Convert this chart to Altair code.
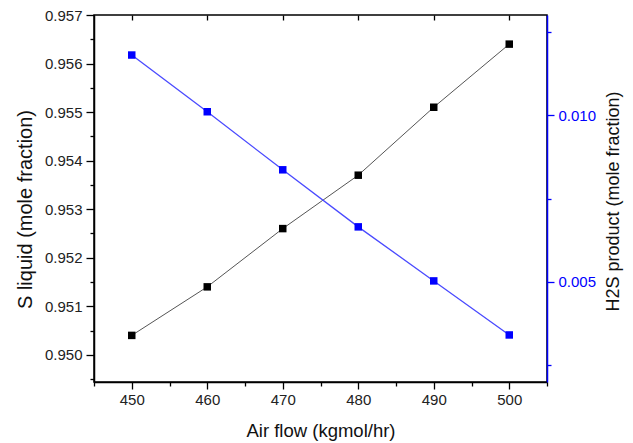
import altair as alt
import pandas as pd

air_flow = [450, 460, 470, 480, 490, 500]
s_liquid = [0.9504, 0.9514, 0.9526, 0.9537, 0.9551, 0.9564]
h2s_product = [0.0118, 0.0101, 0.00836, 0.00665, 0.00503, 0.00341]

x_major = [450, 460, 470, 480, 490, 500]
x_ticks = [445, 450, 455, 460, 465, 470, 475, 480, 485, 490, 495, 500, 505]
yl_ticks = [0.9495, 0.950, 0.9505, 0.951, 0.9515, 0.952, 0.9525, 0.953, 0.9535,
            0.954, 0.9545, 0.955, 0.9555, 0.956, 0.9565, 0.957]
yr_ticks = [0.0025, 0.005, 0.0075, 0.010, 0.0125]

df = pd.DataFrame({"x": air_flow, "s": s_liquid, "h": h2s_product})

FONT = "Liberation Sans"
BLUE = "#0000ff"

x_is_major = "datum.value % 10 == 0"
yl_is_major = "abs(datum.value * 1000 - round(datum.value * 1000)) < 0.01"
yr_is_major = "abs(datum.value * 200 - round(datum.value * 200)) < 0.01"

xscale = alt.Scale(domain=[445, 505], nice=False, zero=False)
ylscale = alt.Scale(domain=[0.94944, 0.957], nice=False, zero=False)
yrscale = alt.Scale(domain=[0.002, 0.013], nice=False, zero=False)

x_main = alt.X("x:Q", scale=xscale, axis=alt.Axis(
    values=x_ticks, orient="bottom", title="Air flow (kgmol/hr)", grid=False,
    labelExpr=f"({x_is_major}) ? datum.label : ''",
    tickSize={"condition": {"test": x_is_major, "value": 7}, "value": 4},
    tickColor="black", domainColor="black", domainWidth=1.5, tickWidth=1.3,
    labelFontSize=15, labelFont=FONT, labelColor="#222", labelPadding=3,
    titleFont=FONT, titleFontSize=18.5, titleFontWeight="normal", titleColor="#111",
    titleY=48, titleBaseline="middle"))
x_top = alt.X("x:Q", scale=xscale, axis=alt.Axis(
    values=x_major, orient="top", title=None, labels=False, grid=False, domain=False,
    tickSize=5, tickColor="black", tickWidth=1.3, offset=-5))

yl_main = alt.Y("s:Q", scale=ylscale, axis=alt.Axis(
    values=yl_ticks, orient="left", title="S liquid (mole fraction)", grid=False, format=".3f",
    labelExpr=f"({yl_is_major}) ? datum.label : ''",
    tickSize={"condition": {"test": yl_is_major, "value": 8}, "value": 4},
    tickColor="black", domainColor="black", domainWidth=1.5, tickWidth=1.3,
    labelFontSize=15, labelFont=FONT, labelColor="#222", labelPadding=4,
    titleFont=FONT, titleFontSize=20, titleFontWeight="normal", titleColor="#111",
    titleX=-69, titleY=194, titleAngle=270, titleAlign="center", titleBaseline="middle"))

yr_main = alt.Y("h:Q", scale=yrscale, axis=alt.Axis(
    values=yr_ticks, orient="right", title="H2S product (mole fraction)", grid=False, format=".3f",
    labelExpr=f"({yr_is_major}) ? datum.label : ''",
    tickSize={"condition": {"test": yr_is_major, "value": 7}, "value": 4},
    tickColor=BLUE, domainColor=BLUE, domainWidth=1.5, tickWidth=1.3,
    labelFontSize=15, labelFont=FONT, labelColor=BLUE, labelPadding=4,
    titleFont=FONT, titleFontSize=18, titleFontWeight="normal", titleColor="#111",
    titleX=66, titleY=186, titleAngle=270, titleAlign="center", titleBaseline="middle"))

base = alt.Chart(df)

line_s = base.mark_line(color="#555555", strokeWidth=1).encode(x=x_main, y=yl_main)
pts_s = base.mark_square(color="black", size=56, opacity=1).encode(
    x=alt.X("x:Q", scale=xscale, axis=None), y=alt.Y("s:Q", scale=ylscale, axis=None))
line_h = base.mark_line(color="#4a4aff", strokeWidth=1.3).encode(x=x_top, y=yr_main)
pts_h = base.mark_square(color=BLUE, size=56, opacity=1).encode(
    x=alt.X("x:Q", scale=xscale, axis=None), y=alt.Y("h:Q", scale=yrscale, axis=None))

chart = alt.layer(line_s, line_h, pts_s, pts_h).resolve_scale(
    x="independent", y="independent"
).resolve_axis(
    x="independent", y="independent"
).properties(
    width=453, height=367,
    autosize=alt.AutoSizeParams(type="none"),
    padding={"left": 94, "top": 15, "right": 86, "bottom": 61},
    background="white",
).configure_view(stroke="black", strokeWidth=1.5)

chart.save("out.html", embed_options={"renderer": "svg", "actions": False})
